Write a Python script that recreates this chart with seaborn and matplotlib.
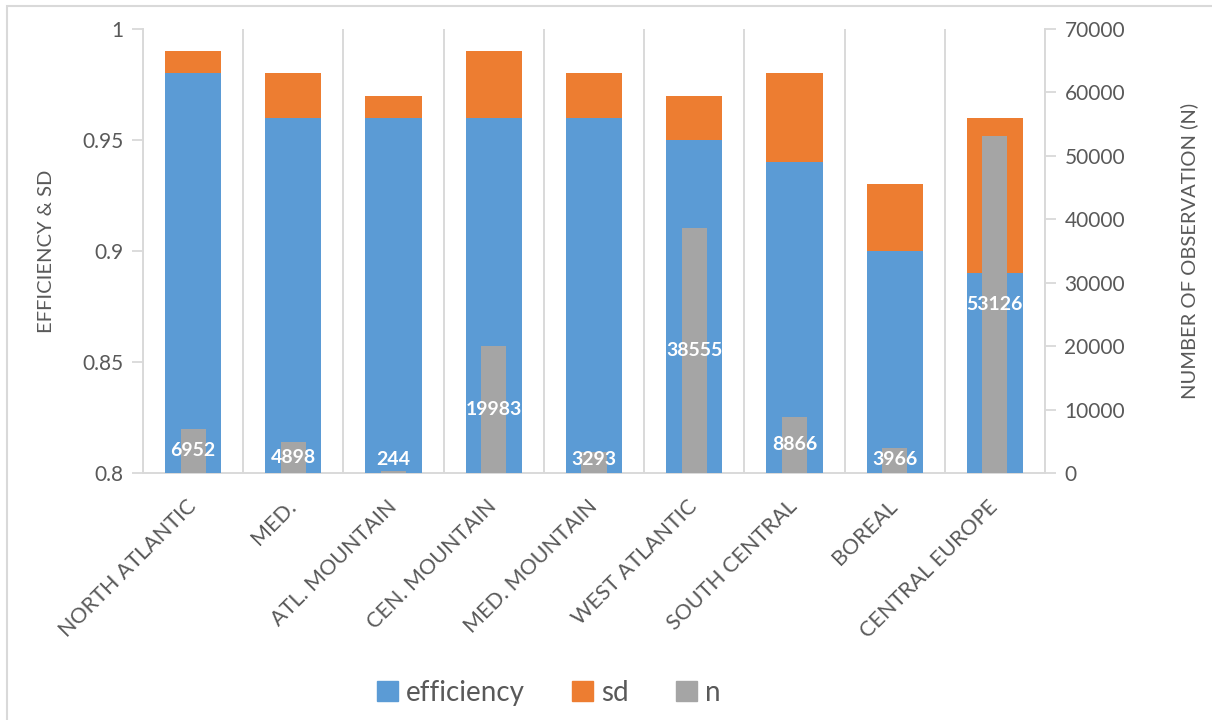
import numpy as np
import matplotlib
matplotlib.use("Agg")
import matplotlib.pyplot as plt
import seaborn as sns
from matplotlib.patches import Patch, Rectangle

# chart data
regions = ["NORTH ATLANTIC", "MED.", "ATL. MOUNTAIN", "CEN. MOUNTAIN", "MED. MOUNTAIN",
           "WEST ATLANTIC", "SOUTH CENTRAL", "BOREAL", "CENTRAL EUROPE"]
efficiency = [0.98, 0.96, 0.96, 0.96, 0.96, 0.95, 0.94, 0.90, 0.89]
sd = [0.01, 0.02, 0.01, 0.03, 0.02, 0.02, 0.04, 0.03, 0.07]
n_obs = [6952, 4898, 244, 19983, 3293, 38555, 8866, 3966, 53126]

left_ticks = [0.8, 0.85, 0.9, 0.95, 1]
left_ticklabels = ["0.8", "0.85", "0.9", "0.95", "1"]
right_ticks = [0, 10000, 20000, 30000, 40000, 50000, 60000, 70000]

BLUE, ORANGE, GRAY = "#5B9BD5", "#ED7D31", "#A5A5A5"
TXT = "#595959"
LINE = "#D9D9D9"

sns.set_style("white")
plt.rcParams["font.family"] = ["Lato", "DejaVu Sans"]

fig = plt.figure(figsize=(12.12, 7.2), dpi=100)
ax = fig.add_axes([143 / 1212, 1 - 473 / 720, 902 / 1212, 444 / 720])

# stacked efficiency + sd (total drawn first, efficiency on top)
totals = [e + s for e, s in zip(efficiency, sd)]
sns.barplot(x=regions, y=totals, color=ORANGE, width=0.56, saturation=1,
            linewidth=0, ax=ax, zorder=2)
sns.barplot(x=regions, y=efficiency, color=BLUE, width=0.56, saturation=1,
            linewidth=0, ax=ax, zorder=3)

ax.set_ylim(0.8, 1.0)
ax.set_yticks(left_ticks)
ax.set_yticklabels(left_ticklabels)
ax.set_xlim(-0.5, len(regions) - 0.5)
ax.set_xticks(np.arange(len(regions) + 1) - 0.5, minor=True)
ax.grid(False)
ax.grid(which="minor", axis="x", color=LINE, lw=1.4, zorder=0)
ax.tick_params(axis="x", which="both", length=0, pad=22)
ax.tick_params(axis="y", length=8, width=1.3, color=LINE, labelsize=15,
               labelcolor=TXT, pad=6)
for lab in ax.get_xticklabels():
    lab.set_rotation(45)
    lab.set_ha("right")
    lab.set_va("center")
    lab.set_rotation_mode("anchor")
    lab.set_fontsize(15.5)
    lab.set_color(TXT)
ax.set_xlabel("")
ax.set_ylabel("EFFICIENCY & SD", fontsize=14.5, color=TXT, labelpad=20)
for side in ["top", "right"]:
    ax.spines[side].set_visible(False)
for side in ["left", "bottom"]:
    ax.spines[side].set_color(LINE)
    ax.spines[side].set_linewidth(1.4)

# number of observations on the secondary axis
ax2 = ax.twinx()
sns.barplot(x=regions, y=n_obs, color=GRAY, width=0.25, saturation=1,
            linewidth=0, ax=ax2, zorder=2)
ax2.set_ylim(0, 70000)
ax2.set_yticks(right_ticks)
ax2.set_xlim(-0.5, len(regions) - 0.5)
ax2.tick_params(axis="y", length=8, width=1.3, color=LINE, labelsize=15,
                labelcolor=TXT, pad=6)
ax2.set_ylabel("NUMBER OF OBSERVATION (N)", fontsize=14.5, color=TXT,
               labelpad=40)
for side in ["top", "left", "bottom"]:
    ax2.spines[side].set_visible(False)
ax2.spines["right"].set_color(LINE)
ax2.spines["right"].set_linewidth(1.4)

for i, v in enumerate(n_obs):
    ax2.text(i, max(v / 2, 2100), str(v), ha="center", va="center",
             color="white", fontsize=14, fontweight="bold", zorder=5)

handles = [Patch(color=BLUE, label="efficiency"),
           Patch(color=ORANGE, label="sd"),
           Patch(color=GRAY, label="n")]
fig.legend(handles=handles, loc="center", bbox_to_anchor=(0.453, 0.0375),
           ncol=3, frameon=False, fontsize=20, labelcolor=TXT,
           handlelength=0.75, handleheight=0.75, handletextpad=0.3,
           columnspacing=1.7)

# chart-area border
fig.patches.append(Rectangle((7 / 1212, -0.05), 1.1, 1 - 6 / 720 + 0.05,
                             transform=fig.transFigure, fill=False,
                             edgecolor=LINE, lw=1.5))

fig.savefig("out.png", dpi=100)
